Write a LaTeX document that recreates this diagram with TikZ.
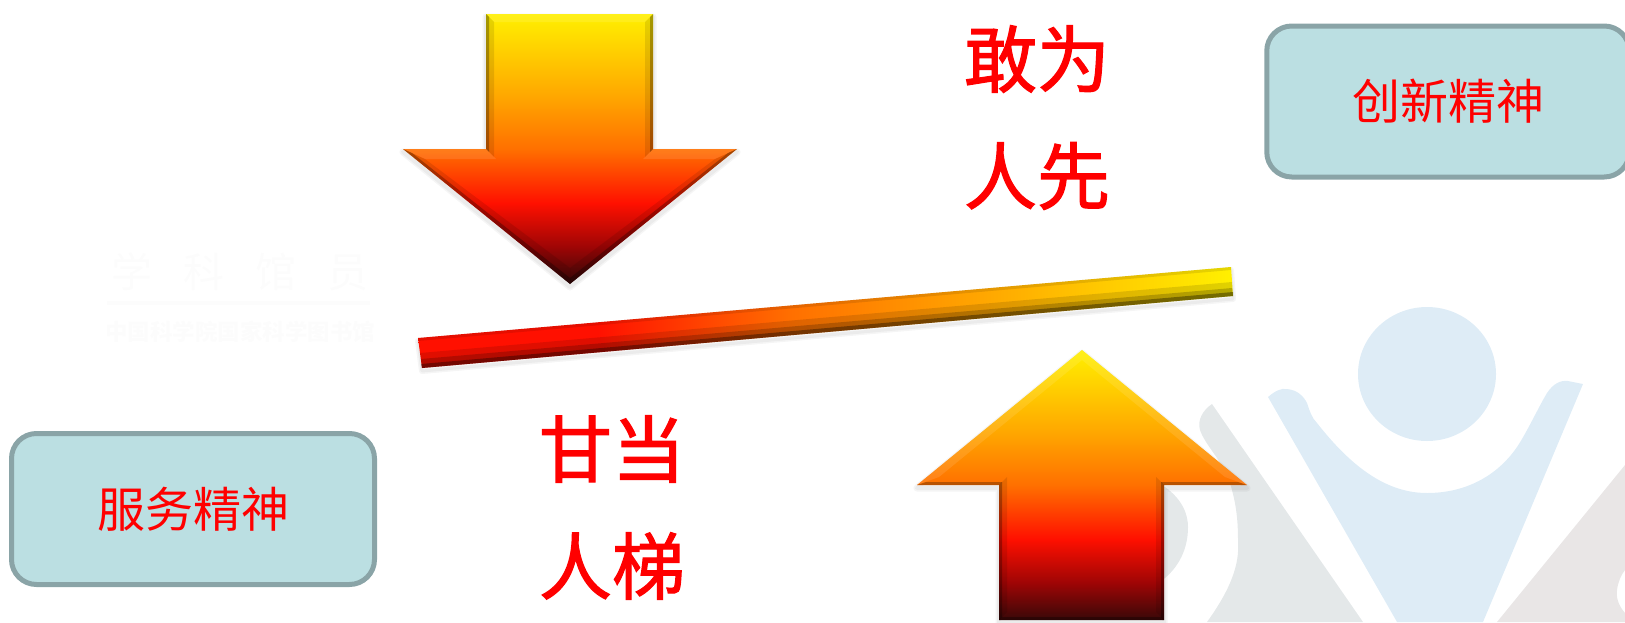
\documentclass[tikz,border=0pt]{standalone}
\usepackage{fontspec}
\newfontfamily\cjk{Noto Sans CJK SC}
\newfontfamily\cjkmid[FakeBold=1.6]{Noto Sans CJK SC}
\definecolor{wmblue}{HTML}{DEECF6}
\definecolor{wmgrayA}{HTML}{E4E8E9}
\definecolor{wmgrayB}{HTML}{E9E6E6}
\definecolor{wmtext}{HTML}{FCFCFC}
\definecolor{boxfill}{HTML}{BBDFE2}
\definecolor{boxline}{HTML}{8AA4A7}
\definecolor{gY}{HTML}{FFF000}
\definecolor{gA}{HTML}{FFA800}
\definecolor{gO}{HTML}{FF7000}
\definecolor{gR}{HTML}{FF1000}
\definecolor{gD}{HTML}{A00505}
\definecolor{gK}{HTML}{380808}
\pgfdeclareverticalshading{arrowgrad}{100bp}{color(0bp)=(gK); color(25bp)=(gK); color(32bp)=(gD); color(40bp)=(gR); color(50bp)=(gO); color(60bp)=(gA); color(75bp)=(gY); color(100bp)=(gY)}
\pgfdeclarehorizontalshading{bargrad}{100bp}{color(0bp)=(gR); color(25bp)=(gR); color(36bp)=(gR); color(48bp)=(gO); color(60bp)=(gA); color(75bp)=(gY); color(100bp)=(gY)}
\tikzset{
  lit/.style={fill=white,opacity=.1},
  dim/.style={fill=black,opacity=.1},
  deep/.style={fill=black,opacity=.28},
  soft/.style={draw=black,opacity=.04,line join=round},
  panel/.style={draw=boxline,line width=5pt,fill=boxfill,rounded corners=25pt,inner sep=0pt,outer sep=0pt,
    text=red,font=\cjk\fontsize{48}{48}\selectfont},
  slogan/.style={text=red,inner sep=0pt,font=\cjkmid\fontsize{73}{73}\selectfont},
  wmark/.style={text=wmtext,inner sep=0pt},
}
\def\arrowdownpath{(486,14) -- (653,14) -- (653,149) -- (737,149) -- (570,284) -- (403,149) -- (486,149) -- cycle}
\def\arrowuppath{(1082,350) -- (1247,485) -- (1164,485) -- (1164,620) -- (999,620) -- (999,485) -- (917,485) -- cycle}
\def\tiltbarpath{(418,338) -- (1231,267) -- (1233,296) -- (422,368) -- cycle}
\begin{document}
\begin{tikzpicture}[x=1pt,y=-1pt]
\path[use as bounding box] (0,0) rectangle (1625,622);
\clip (0,0) rectangle (1625,622);
% background emblem
\fill[wmblue] (1427,374) ellipse[x radius=69,y radius=67];
\fill[wmblue] (1268,397) .. controls (1275,391) and (1281,388) .. (1287,389)
  .. controls (1298,390) and (1304,397) .. (1307,403)
  .. controls (1310,412) and (1312,418) .. (1317,423)
  .. controls (1350,465) and (1385,493) .. (1427,493)
  .. controls (1470,493) and (1500,472) .. (1517,447)
  .. controls (1527,432) and (1538,408) .. (1547,393)
  .. controls (1553,384) and (1560,380) .. (1568,381)
  -- (1583,384) -- (1483,622) -- (1397,622) -- cycle;
\fill[wmgrayA] (1212,404) -- (1363,622) -- (1207,622)
  .. controls (1230,590) and (1240,565) .. (1238,540)
  .. controls (1238,515) and (1235,500) .. (1230,483)
  .. controls (1222,460) and (1205,445) .. (1200,430)
  .. controls (1197,420) and (1203,410) .. (1212,404) -- cycle;
\fill[wmgrayA] (1150,480) -- (1165,487) .. controls (1183,500) and (1188,515) .. (1188,527)
  .. controls (1188,550) and (1178,567) .. (1165,578) -- (1150,590) -- cycle;
\fill[wmgrayB] (1625,465) -- (1497,622) -- (1625,622) -- (1625,613)
  .. controls (1618,605) and (1616,597) .. (1617,590)
  .. controls (1618,582) and (1621,575) .. (1625,570) -- cycle;
% faint watermark text
\node[wmark,font=\cjk\fontsize{41}{41}\selectfont] (wmtitle) at (240,272) {学\hspace{31pt}科\hspace{31pt}馆\hspace{31pt}员};
\node[wmark,font=\cjk\bfseries\fontsize{22.5}{22.5}\selectfont] (wmsub) at (240,332) {中国科学院国家科学图书馆};
\draw[wmtext,line width=4pt] (107,303) -- (370,303);
% panels
\node[panel,minimum width=362.5pt,minimum height=151pt] (innov) at (1448,101.5) {创新精神};
\node[panel,minimum width=363pt,minimum height=151pt] (serve) at (193,509) {服务精神};
% down arrow
\begin{scope}[shift={(0,3)}]
  \foreach \w in {7,4}{\draw[soft,line width=\w pt] \arrowdownpath;}
\end{scope}
\shade[shading=arrowgrad] \arrowdownpath;
\fill[lit] (486,14) -- (653,14) -- (645,22) -- (494,22) -- cycle;
\fill[dim] (486,14) -- (494,22) -- (494,157) -- (486,149) -- cycle;
\fill[dim] (653,14) -- (645,22) -- (645,157) -- (653,149) -- cycle;
\fill[deep] (486,14) -- (489,17) -- (489,152) -- (486,149) -- cycle;
\fill[deep] (653,14) -- (650,17) -- (650,152) -- (653,149) -- cycle;
\fill[lit] (403,149) -- (486,149) -- (496,159) -- (425,159) -- cycle;
\fill[lit] (737,149) -- (653,149) -- (643,159) -- (715,159) -- cycle;
\fill[dim] (403,149) -- (570,284) -- (570,268) -- (425,159) -- cycle;
\fill[dim] (737,149) -- (570,284) -- (570,268) -- (715,159) -- cycle;
\fill[deep] (403,149) -- (570,284) -- (570,278) -- (412,153) -- cycle;
\fill[deep] (737,149) -- (570,284) -- (570,278) -- (728,153) -- cycle;
% up arrow
\begin{scope}[shift={(0,3)}]
  \foreach \w in {7,4}{\draw[soft,line width=\w pt] \arrowuppath;}
\end{scope}
\shade[shading=arrowgrad] \arrowuppath;
\fill[lit] (1082,350) -- (917,485) -- (939,477) -- (1082,360) -- cycle;
\fill[lit] (1082,350) -- (1247,485) -- (1225,477) -- (1082,360) -- cycle;
\fill[deep] (1247,485) -- (1164,485) -- (1161,482) -- (1238,482) -- cycle;
\fill[deep] (917,485) -- (999,485) -- (1002,482) -- (926,482) -- cycle;
\fill[deep] (1164,485) -- (1164,620) -- (1161,617) -- (1161,482) -- cycle;
\fill[deep] (999,485) -- (999,620) -- (1002,617) -- (1002,482) -- cycle;
\fill[deep] (999,620) -- (1164,620) -- (1161,617) -- (1002,617) -- cycle;
\fill[dim] (1164,485) -- (1164,620) -- (1156,612) -- (1156,477) -- cycle;
\fill[dim] (999,485) -- (999,620) -- (1007,612) -- (1007,477) -- cycle;
% bar
\begin{scope}[shift={(0,3)}]
  \foreach \w in {6,3}{\draw[soft,line width=\w pt] \tiltbarpath;}
\end{scope}
\shade[shading=bargrad] \tiltbarpath;
\fill[fill=black,opacity=.1] (418,338) -- (1231,267) -- (1231,270) -- (418,341) -- cycle;
\fill[fill=black,opacity=.12] (420,353) -- (1232,282) -- (1233,296) -- (422,368) -- cycle;
\fill[fill=black,opacity=.2] (421,359) -- (1232,288) -- (1233,296) -- (422,368) -- cycle;
\fill[fill=black,opacity=.35] (421,364) -- (1233,292) -- (1233,296) -- (422,368) -- cycle;
% slogans
\node[slogan] (s1) at (1037,59) {敢为};
\node[slogan] (s2) at (1037,176) {人先};
\node[slogan] (s3) at (612,449) {甘当};
\node[slogan] (s4) at (612,566) {人梯};
\end{tikzpicture}
\end{document}
